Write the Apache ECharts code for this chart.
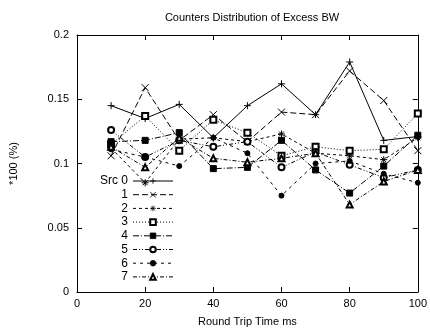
<!DOCTYPE html>
<html>
<head>
<meta charset="utf-8">
<script src="https://cdn.jsdelivr.net/npm/echarts@6/dist/echarts.min.js"></script>
<style>
html,body{margin:0;padding:0;background:#fff;}
#c{width:430px;height:332px;}
</style>
</head>
<body>
<div id="c"></div>
<script>
var xValues = [10, 20, 30, 40, 50, 60, 70, 80, 90, 100];
var src0 = [0.145, 0.135, 0.146, 0.120, 0.145, 0.162, 0.138, 0.179, 0.118, 0.121];
var src1 = [0.106, 0.159, 0.118, 0.138, 0.117, 0.140, 0.138, 0.172, 0.149, 0.110];
var src2 = [0.112, 0.085, 0.119, 0.120, 0.117, 0.123, 0.108, 0.106, 0.103, 0.120];
var src3 = [0.115, 0.137, 0.110, 0.134, 0.124, 0.106, 0.113, 0.110, 0.111, 0.139];
var src4 = [0.117, 0.118, 0.124, 0.096, 0.097, 0.118, 0.095, 0.077, 0.098, 0.122];
var src5 = [0.126, 0.105, 0.118, 0.113, 0.117, 0.097, 0.109, 0.099, 0.089, 0.095];
var src6 = [0.111, 0.105, 0.098, 0.120, 0.108, 0.075, 0.100, 0.102, 0.092, 0.085];
var src7 = [0.113, 0.097, 0.120, 0.104, 0.101, 0.104, 0.108, 0.068, 0.086, 0.095];
var seriesNames = ['Src 0', '1', '2', '3', '4', '5', '6', '7'];
var seriesValues = [src0, src1, src2, src3, src4, src5, src6, src7];
var xTicks = [0, 20, 40, 60, 80, 100];
var yTicks = [0, 0.05, 0.1, 0.15, 0.2];

var symbols = [
  'path://M0,5L10,5M5,0L5,10',
  'path://M0,0L10,10M10,0L0,10',
  'path://M0,5L10,5M5,0L5,10M1.5,1.5L8.5,8.5M8.5,1.5L1.5,8.5',
  'emptyRect',
  'rect',
  'emptyCircle',
  'circle',
  'emptyTriangle'
];
var dashes = [
  'solid',
  [6, 3],
  [3, 3],
  [1, 2],
  [6, 2, 1, 2],
  [4, 2, 1, 2, 1, 2],
  [3, 4],
  [4, 2, 1, 2]
];
var sizes = [7, 7, 7, 6, 6, 6, 5, 6];

var series = seriesNames.map(function (n, i) {
  return {
    name: n,
    type: 'line',
    data: xValues.map(function (x, j) { return [x, seriesValues[i][j]]; }),
    symbol: symbols[i],
    symbolSize: sizes[i],
    showAllSymbol: true,
    color: '#000',
    lineStyle: { color: '#000', width: 1, type: dashes[i] },
    itemStyle: { color: '#000', borderColor: '#000', borderWidth: 1 },
    emphasis: { disabled: true },
    z: 2
  };
});

var font = 'Liberation Sans, Arial, Helvetica, sans-serif';
var chart = echarts.init(document.getElementById('c'), null, { renderer: 'canvas' });
chart.setOption({
  animation: false,
  backgroundColor: '#fff',
  textStyle: { fontFamily: font, color: '#000' },
  title: {
    text: 'Counters Distribution of Excess BW',
    left: 247, top: 7, textAlign: 'center',
    textStyle: { fontFamily: font, fontSize: 11, fontWeight: 'normal', color: '#000' }
  },
  grid: { left: 76, right: 12, top: 35, bottom: 40, containLabel: false },
  legend: {
    orient: 'vertical',
    align: 'right',
    left: 100, top: 175,
    padding: 0,
    itemWidth: 40, itemHeight: 7, itemGap: 1.7,
    selectedMode: false,
    textStyle: { fontFamily: font, fontSize: 12, color: '#000' },
    itemStyle: { borderColor: '#000', borderWidth: 0.8 },
    lineStyle: { width: 1, color: '#000' },
    data: seriesNames
  },
  xAxis: [{
    type: 'value', min: 0, max: 100, interval: 20,
    name: 'Round Trip Time ms', nameLocation: 'middle', nameGap: 24,
    nameTextStyle: { fontFamily: font, fontSize: 11, color: '#000' },
    axisLine: { show: true, lineStyle: { color: '#000', width: 1 } },
    axisTick: { show: true, inside: true, length: 5, lineStyle: { color: '#000' } },
    axisLabel: { fontFamily: font, fontSize: 11, color: '#000', margin: 6,
      formatter: function (v) { return xTicks.indexOf(v) >= 0 ? String(v) : ''; } },
    splitLine: { show: false }
  }, {
    type: 'value', min: 0, max: 100, interval: 20, position: 'top',
    axisLine: { show: true, onZero: false, lineStyle: { color: '#000', width: 1 } },
    axisTick: { show: true, inside: true, length: 5, lineStyle: { color: '#000' } },
    axisLabel: { show: false }, splitLine: { show: false }
  }],
  yAxis: [{
    type: 'value', min: 0, max: 0.2, interval: 0.05,
    name: '*100 (%)', nameLocation: 'middle', nameGap: 58, nameRotate: 90,
    nameTextStyle: { fontFamily: font, fontSize: 11, color: '#000' },
    axisLine: { show: true, lineStyle: { color: '#000', width: 1 } },
    axisTick: { show: true, inside: true, length: 5, lineStyle: { color: '#000' } },
    axisLabel: { fontFamily: font, fontSize: 11, color: '#000', margin: 8,
      formatter: function (v) {
        for (var k = 0; k < yTicks.length; k++) { if (Math.abs(yTicks[k] - v) < 1e-9) return String(yTicks[k]); }
        return '';
      } },
    splitLine: { show: false }
  }, {
    type: 'value', min: 0, max: 0.2, interval: 0.05, position: 'right',
    axisLine: { show: true, onZero: false, lineStyle: { color: '#000', width: 1 } },
    axisTick: { show: true, inside: true, length: 5, lineStyle: { color: '#000' } },
    axisLabel: { show: false }, splitLine: { show: false }
  }],
  series: series
});
</script>
</body>
</html>
